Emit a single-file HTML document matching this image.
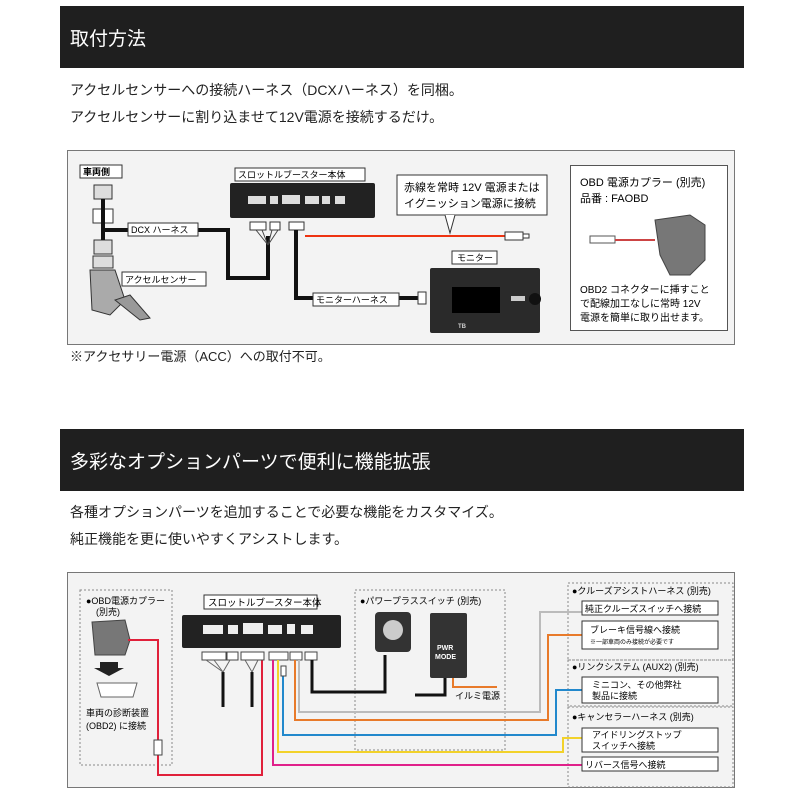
<!DOCTYPE html>
<html><head><meta charset="utf-8"><style>
body{margin:0;width:809px;height:809px;background:#fff;position:relative;overflow:hidden;font-family:"Liberation Sans","Noto Sans CJK JP",sans-serif;}
.hd{position:absolute;left:60px;width:684px;background:#1f1f1f;color:#fff;font-size:19px;}
.t{position:absolute;left:70px;font-size:14px;color:#222;}
svg{position:absolute;left:0;top:0}
svg text{font-family:"Liberation Sans","Noto Sans CJK JP",sans-serif;}
</style></head><body>
<div class="hd" style="top:6px;height:62px;"><div style="position:absolute;left:10px;top:18px">取付方法</div></div>
<div class="t" style="top:80px">アクセルセンサーへの接続ハーネス（DCXハーネス）を同梱。</div>
<div class="t" style="top:107px">アクセルセンサーに割り込ませて12V電源を接続するだけ。</div>
<div class="t" style="top:346px;font-size:13px">※アクセサリー電源（ACC）への取付不可。</div>
<div class="hd" style="top:429px;height:62px;"><div style="position:absolute;left:10px;top:18px">多彩なオプションパーツで便利に機能拡張</div></div>
<div class="t" style="top:502px">各種オプションパーツを追加することで必要な機能をカスタマイズ。</div>
<div class="t" style="top:529px">純正機能を更に使いやすくアシストします。</div>
<svg width="809" height="809" viewBox="0 0 809 809">
<!-- diagram 1 -->
<rect x="67.5" y="150.5" width="667" height="194" fill="#f3f3f3" stroke="#777"/>
<rect x="80" y="165" width="42" height="13" fill="#fff" stroke="#333"/>
<text x="83" y="175" font-size="9" font-weight="bold">車両側</text>
<g fill="#ddd" stroke="#333">
<rect x="94" y="185" width="18" height="14"/><rect x="93" y="209" width="20" height="14" fill="#fff"/>
<rect x="94" y="240" width="18" height="14"/><rect x="93" y="256" width="20" height="12"/>
</g>
<line x1="103" y1="199" x2="103" y2="240" stroke="#111" stroke-width="4"/>
<path d="M103 230 H228 V278 H268 V236" fill="none" stroke="#111" stroke-width="4"/>
<path d="M90 270 L115 270 L125 300 L110 315 L92 310 Z" fill="#aaa" stroke="#333"/>
<path d="M115 300 L140 320 L150 318 L130 295 Z" fill="#999" stroke="#333"/>
<rect x="128" y="223" width="70" height="13" fill="#fff" stroke="#333"/>
<text x="131" y="233" font-size="9">DCX ハーネス</text>
<rect x="122" y="272" width="84" height="14" fill="#fff" stroke="#333"/>
<text x="125" y="283" font-size="9">アクセルセンサー</text>
<rect x="235" y="168" width="130" height="13" fill="#fff" stroke="#333"/>
<text x="238" y="178" font-size="9">スロットルブースター本体</text>
<rect x="230" y="183" width="145" height="35" rx="2" fill="#222"/>
<g fill="#ddd"><rect x="248" y="196" width="18" height="8"/><rect x="270" y="196" width="8" height="8"/><rect x="282" y="195" width="18" height="9"/><rect x="305" y="196" width="14" height="8"/><rect x="322" y="196" width="8" height="8"/><rect x="335" y="196" width="10" height="8"/></g>
<g fill="#fff" stroke="#333"><rect x="250" y="222" width="16" height="8"/><rect x="270" y="222" width="10" height="8"/><rect x="289" y="222" width="15" height="8"/></g>
<path d="M256 230 L268 245 M262 230 L268 245 M272 230 L268 245 M278 230 L268 245" stroke="#444"/>
<path d="M296 230 V298 H420" fill="none" stroke="#111" stroke-width="4"/>
<line x1="305" y1="236" x2="505" y2="236" stroke="#e31" stroke-width="2"/>
<rect x="505" y="232" width="18" height="8" fill="#fff" stroke="#333"/><rect x="523" y="234" width="6" height="4" fill="#fff" stroke="#333"/>
<rect x="397" y="175" width="150" height="40" fill="#fff" stroke="#333"/>
<path d="M445 215 L450 233 L455 215" fill="#fff" stroke="#333"/>
<text x="404" y="191" font-size="11">赤線を常時 12V 電源または</text>
<text x="404" y="207" font-size="11">イグニッション電源に接続</text>
<rect x="313" y="293" width="86" height="13" fill="#fff" stroke="#333"/>
<text x="316" y="303" font-size="9">モニターハーネス</text>
<rect x="418" y="292" width="8" height="12" fill="#fff" stroke="#333"/>
<rect x="452" y="251" width="45" height="13" fill="#fff" stroke="#333"/>
<text x="457" y="261" font-size="9">モニター</text>
<rect x="430" y="268" width="110" height="65" rx="2" fill="#2a2a2a"/>
<rect x="452" y="287" width="48" height="26" fill="#000"/>
<circle cx="535" cy="299" r="6" fill="#111"/><rect x="511" y="296" width="14" height="5" fill="#ccc"/>
<text x="458" y="328" font-size="6" fill="#ccc" font-weight="bold">TB</text>
<rect x="570.5" y="165.5" width="157" height="165" fill="#fff" stroke="#555"/>
<text x="580" y="186" font-size="11">OBD 電源カプラー (別売)</text>
<text x="580" y="202" font-size="11">品番 : FAOBD</text>
<rect x="590" y="236" width="25" height="7" fill="#fff" stroke="#555"/>
<line x1="615" y1="240" x2="655" y2="240" stroke="#c44" stroke-width="2"/>
<path d="M655 220 L690 215 L705 225 L705 260 L690 275 L670 275 L660 255 Z" fill="#777" stroke="#444"/>
<text x="580" y="293" font-size="10">OBD2 コネクターに挿すこと</text>
<text x="580" y="307" font-size="10">で配線加工なしに常時 12V</text>
<text x="580" y="321" font-size="10">電源を簡単に取り出せます。</text>
<!-- diagram 2 -->
<rect x="67.5" y="572.5" width="667" height="215" fill="#f3f3f3" stroke="#777"/>
<g fill="none" stroke="#888" stroke-dasharray="2,2">
<rect x="80" y="590" width="92" height="175"/><rect x="355" y="590" width="150" height="160"/>
<rect x="568" y="583" width="165" height="77"/><rect x="568" y="660" width="165" height="46"/><rect x="568" y="707" width="165" height="80"/>
</g>
<text x="86" y="604" font-size="9">●OBD電源カプラー</text><text x="96" y="615" font-size="9">(別売)</text>
<path d="M92 622 L125 620 L130 640 L125 655 L95 655 Z" fill="#777" stroke="#444"/>
<path d="M100 662 h18 v6 h6 l-15 8 l-15 -8 h6z" fill="#222"/>
<path d="M97 683 h40 l-4 14 h-32 z" fill="#fff" stroke="#666"/>
<text x="86" y="716" font-size="9">車両の診断装置</text><text x="86" y="729" font-size="9">(OBD2) に接続</text>
<path d="M128 640 H158 V740 M158 755 V775 H262 V660" fill="none" stroke="#e0203a" stroke-width="2"/>
<rect x="154" y="740" width="8" height="15" fill="#fff" stroke="#444"/>
<rect x="204" y="595" width="113" height="14" fill="#fff" stroke="#333"/>
<text x="208" y="606" font-size="9.5">スロットルブースター本体</text>
<rect x="182" y="615" width="159" height="33" rx="2" fill="#222"/>
<g fill="#eee"><rect x="203" y="625" width="20" height="9"/><rect x="228" y="625" width="10" height="9"/><rect x="243" y="623" width="20" height="11"/><rect x="268" y="625" width="14" height="9"/><rect x="287" y="624" width="8" height="10"/><rect x="301" y="625" width="12" height="9"/></g>
<g fill="#fff" stroke="#444"><rect x="202" y="652" width="24" height="8"/><rect x="227" y="652" width="11" height="8"/><rect x="241" y="652" width="23" height="8"/><rect x="269" y="652" width="19" height="8"/><rect x="290" y="652" width="12" height="8"/><rect x="305" y="652" width="12" height="8"/></g>
<path d="M223 672 V707 M252 672 V707" stroke="#111" stroke-width="3"/>
<path d="M206 660 L223 672 M214 660 L223 672 M230 660 L223 672 M245 660 L252 672 M258 660 L252 672" stroke="#666"/>
<path d="M312 660 V692 H385 V655" fill="none" stroke="#111" stroke-width="3"/>
<rect x="375" y="612" width="36" height="40" rx="4" fill="#333"/><circle cx="393" cy="630" r="10" fill="#ccc"/>
<rect x="430" y="613" width="37" height="65" rx="2" fill="#333"/>
<text x="437" y="650" font-size="7" fill="#fff" font-weight="bold">PWR</text><text x="435" y="659" font-size="7" fill="#fff" font-weight="bold">MODE</text>
<path d="M445 678 V695 H415" fill="none" stroke="#111" stroke-width="3"/>
<path d="M453 678 V687 H497" fill="none" stroke="#e87a2a" stroke-width="2"/>
<text x="455" y="699" font-size="9">イルミ電源</text>
<text x="360" y="604" font-size="9">●パワープラススイッチ (別売)</text>
<path d="M299 660 V712 H540 V612 H582" fill="none" stroke="#bbb" stroke-width="2"/>
<path d="M295 660 V720 H548 V635 H582" fill="none" stroke="#e87a2a" stroke-width="2"/>
<path d="M283 675 V735 H556 V690 H582" fill="none" stroke="#2288cc" stroke-width="2"/>
<path d="M278 660 V752 H563 V738 H582" fill="none" stroke="#f2d22a" stroke-width="2"/>
<path d="M273 660 V765 H582" fill="none" stroke="#e0208a" stroke-width="2"/>
<rect x="281" y="666" width="5" height="10" fill="#fff" stroke="#444"/>
<text x="572" y="594" font-size="9">●クルーズアシストハーネス (別売)</text>
<rect x="582" y="601" width="136" height="14" fill="#fff" stroke="#333"/><text x="585" y="612" font-size="9">純正クルーズスイッチへ接続</text>
<rect x="582" y="621" width="136" height="28" fill="#fff" stroke="#333"/><text x="590" y="633" font-size="9">ブレーキ信号線へ接続</text><text x="590" y="644" font-size="6">※一部車両のみ接続が必要です</text>
<text x="572" y="670" font-size="9">●リンクシステム (AUX2) (別売)</text>
<rect x="582" y="677" width="136" height="26" fill="#fff" stroke="#333"/><text x="592" y="688" font-size="9">ミニコン、その他弊社</text><text x="592" y="699" font-size="9">製品に接続</text>
<text x="572" y="720" font-size="9">●キャンセラーハーネス (別売)</text>
<rect x="582" y="728" width="136" height="24" fill="#fff" stroke="#333"/><text x="592" y="738" font-size="9">アイドリングストップ</text><text x="592" y="749" font-size="9">スイッチへ接続</text>
<rect x="582" y="757" width="136" height="14" fill="#fff" stroke="#333"/><text x="585" y="768" font-size="9">リバース信号へ接続</text>
</svg>
</body></html>
